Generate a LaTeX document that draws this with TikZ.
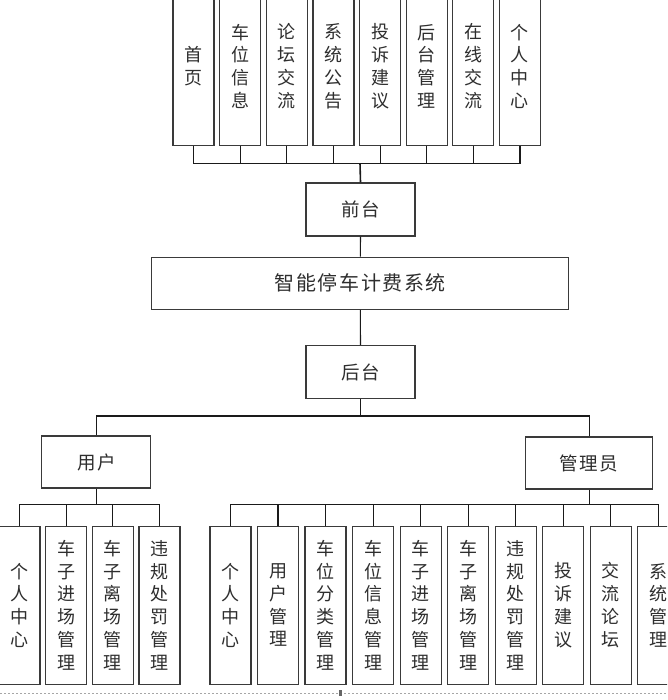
\documentclass[tikz,border=0pt]{standalone}
\usepackage{fontspec}
\newfontfamily\cjk{Noto Sans CJK SC}
\newfontfamily\cjkls[LetterSpace=8]{Noto Sans CJK SC}
\definecolor{boxc}{HTML}{3A3A3A}
\definecolor{txt}{HTML}{2E2E2E}
\definecolor{linec}{HTML}{1A1A1A}
\begin{document}
\begin{tikzpicture}[x=1pt,y=-1pt,
  vbox/.style={draw=boxc, line width=1.2pt, fill=white, minimum width=41pt, minimum height=158pt,
    inner sep=0pt, align=center, text=txt, font=\cjk\fontsize{18}{22.8}\selectfont},
  hbox/.style={draw=boxc, line width=1.2pt, fill=white, inner sep=0pt, text=txt,
    font=\cjkls\fontsize{18.5}{20}\selectfont},
  conn/.style={draw=linec, line width=1.1pt}]
\clip (0,0) rectangle (667,700);
\fill[white] (0,0) rectangle (667,700);

% top row
\foreach \t [count=\i from 0] in {{首\\页},{车\\位\\信\\息},{论\\坛\\交\\流},{系\\统\\公\\告},{投\\诉\\建\\议},{后\\台\\管\\理},{在\\线\\交\\流},{个\\人\\中\\心}}
  \node[vbox] (t\i) at (193.5+\i*46.64,66.3) {\t};

\node[hbox, minimum width=109pt, minimum height=53pt] (front) at (360.5,209.5) {前台};
\node[hbox, minimum width=417pt, minimum height=52pt, font=\cjkls\fontsize{20}{22}\selectfont] (main) at (360.3,283.3) {智能停车计费系统};
\node[hbox, minimum width=109pt, minimum height=53pt] (back) at (360.5,372) {后台};
\node[hbox, minimum width=109pt, minimum height=52pt] (user) at (96.3,462) {用户};
\node[hbox, minimum width=127pt, minimum height=52pt] (admin) at (589.2,463) {管理员};

% user children
\foreach \t [count=\i from 0] in {{个\\人\\中\\心},{车\\子\\进\\场\\管\\理},{车\\子\\离\\场\\管\\理},{违\\规\\处\\罚\\管\\理}}
  \node[vbox] (u\i) at (19.4+\i*46.7,605.2) {\t};

% admin children
\foreach \t [count=\i from 0] in {{个\\人\\中\\心},{用\\户\\管\\理},{车\\位\\分\\类\\管\\理},{车\\位\\信\\息\\管\\理},{车\\子\\进\\场\\管\\理},{车\\子\\离\\场\\管\\理},{违\\规\\处\\罚\\管\\理},{投\\诉\\建\\议},{交\\流\\论\\坛},{系\\统\\管\\理}}
  \node[vbox] (a\i) at (230.5+\i*47.53,605.2) {\t};

% bus coordinates
\coordinate (topbus) at (360,163.3);
\coordinate (mbus) at (360.5,416);
\coordinate (ubus) at (96.3,504.3);
\coordinate (abus) at (589.2,504.5);

% connectors
\foreach \i in {0,...,7} \draw[conn] (t\i.south) |- (topbus);
\draw[conn, line width=1.6pt] (topbus) -- (front.north);
\draw[conn] (front.south) -- (main.north);
\draw[conn] (main.south) -- (back.north);
\draw[conn] (back.south) -- (mbus);
\draw[conn] (user.north) |- (mbus);
\draw[conn] (admin.north) |- (mbus);
\draw[conn] (user.south) -- (ubus);
\foreach \i in {0,...,3} \draw[conn] (u\i.north) |- (ubus);
\draw[conn] (admin.south) -- (abus);
\foreach \i in {0,...,9} \draw[conn] (a\i.north) |- (abus);

% bottom dashed edge and handle
\draw[gray!70, line width=0.8pt, dash pattern=on 2pt off 2pt] (0,693.3) -- (667,693.3);
\fill[gray!80!black] (338.5,689.5) rectangle (341.5,695.5);
\end{tikzpicture}
\end{document}
